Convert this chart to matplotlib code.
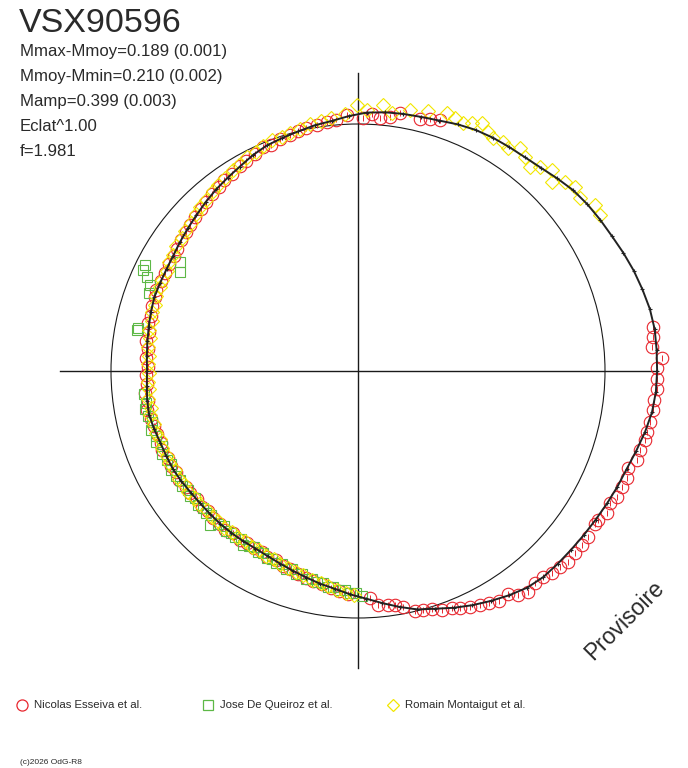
import numpy as np
import matplotlib.pyplot as plt
from matplotlib.patches import Circle

# ------- DATA (phase angle in degrees, radius relative to reference circle) -------
STAR  = "VSX90596"
INFO  = ["Mmax-Mmoy=0.189 (0.001)", "Mmoy-Mmin=0.210 (0.002)",
         "Mamp=0.399 (0.003)", "Eclat^1.00", "f=1.981"]
OBSERVERS = ["Nicolas Esseiva et al.", "Jose De Queiroz et al.", "Romain Montaigut et al."]

blk_ang = [0, 4, 8, 12, 16, 20, 24, 28, 32, 36, 40, 44, 48, 52, 56, 60, 64, 68, 72, 76,
           80, 84, 88, 92, 96, 100, 104, 108, 112, 116, 120, 124, 128, 132, 136, 140, 144,
           148, 152, 156, 160, 164, 168, 172, 176, 180, 184, 188, 192, 196, 200, 204, 208,
           212, 216, 220, 224, 228, 232, 236, 240, 244, 248, 252, 256, 260, 264, 268, 272,
           276, 280, 284, 288, 292, 296, 300, 304, 308, 312, 316, 320, 324, 328, 332, 336,
           340, 344, 348, 352, 356]
blk_r = [1.211, 1.212, 1.213, 1.208, 1.198, 1.188, 1.176, 1.164, 1.156, 1.148, 1.138,
         1.122, 1.107, 1.098, 1.094, 1.091, 1.086, 1.077, 1.066, 1.060, 1.057, 1.053,
         1.047, 1.033, 1.018, 1.010, 1.000, 0.992, 0.985, 0.972, 0.956, 0.944, 0.933,
         0.921, 0.909, 0.899, 0.890, 0.882, 0.878, 0.877, 0.877, 0.872, 0.866, 0.861,
         0.857, 0.854, 0.857, 0.862, 0.864, 0.858, 0.851, 0.849, 0.848, 0.843, 0.837,
         0.834, 0.833, 0.833, 0.832, 0.831, 0.830, 0.834, 0.841, 0.851, 0.862, 0.875,
         0.887, 0.905, 0.922, 0.945, 0.970, 0.995, 1.012, 1.034, 1.055, 1.075, 1.095,
         1.113, 1.122, 1.124, 1.126, 1.130, 1.135, 1.142, 1.150, 1.158, 1.172, 1.188,
         1.202, 1.209]

red_ang = [71.9, 74.1, 76.2, 80.8, 82.8, 85.0, 86.9, 88.9, 92.5,
           95, 97, 99.5, 102, 104, 106, 108.5, 111, 113, 115.5, 118, 120, 122.5, 125,
           127, 129.5, 132, 134, 136.5, 139, 141, 143.5, 146, 148, 150.5, 153, 155.5,
           158, 160, 162.5, 165, 167, 169.5, 172, 174, 176.5, 179, 181, 183.5, 186, 188,
           190.5, 193, 195, 197.5, 200, 202, 204.5, 207, 209, 211.5, 214, 216, 218.5,
           221, 223, 225.5, 228, 230, 232.5, 235, 237, 239.5, 242, 244, 246.5, 249, 251,
           253.5, 256, 258, 260.5, 263, 265, 267.5,
           273.0, 274.9, 277.3, 279.0, 280.8, 283.4, 285.2, 287.3, 289.4, 291.6, 293.3,
           295.4, 297.5, 299.5, 301.5, 303.9, 305.5, 307.6, 309.9, 311.9, 313.8, 315.9,
           317.7, 320.0, 322.2, 324.2, 327.2, 328.2, 330.3, 332.4, 334.1, 336.3, 338.3,
           340.2, 342.3, 344.4, 346.5, 348.1, 350.1, 352.5, 354.4, 356.6, 358.5,
           0.6, 2.4, 4.7, 6.6, 8.5]
red_r = [1.069, 1.061, 1.051, 1.058, 1.036, 1.028, 1.042, 1.024, 1.037,
         1.022, 1.015, 1.010, 1.004, 1.002, 0.992, 0.990, 0.981, 0.986, 0.972, 0.962,
         0.958, 0.948, 0.944, 0.935, 0.929, 0.921, 0.913, 0.908, 0.900, 0.897, 0.889,
         0.886, 0.879, 0.880, 0.875, 0.877, 0.880, 0.874, 0.876, 0.868, 0.872, 0.862,
         0.865, 0.856, 0.858, 0.851, 0.860, 0.855, 0.866, 0.860, 0.868, 0.862, 0.857,
         0.853, 0.850, 0.856, 0.846, 0.851, 0.844, 0.848, 0.838, 0.842, 0.835, 0.839,
         0.830, 0.836, 0.832, 0.838, 0.829, 0.834, 0.828, 0.833, 0.829, 0.838, 0.835,
         0.846, 0.849, 0.858, 0.862, 0.870, 0.876, 0.884, 0.893, 0.902,
         0.920, 0.951, 0.955, 0.959, 0.973, 0.999, 1.003, 1.009, 1.026, 1.032, 1.044,
         1.058, 1.068, 1.079, 1.092, 1.088, 1.114, 1.129, 1.118, 1.121, 1.134, 1.140,
         1.149, 1.147, 1.148, 1.148, 1.142, 1.144, 1.160, 1.152, 1.166, 1.168, 1.172,
         1.162, 1.186, 1.186, 1.195, 1.196, 1.200, 1.205, 1.204, 1.213, 1.211,
         1.211, 1.232, 1.194, 1.202, 1.208]

grn_ang = [148.5, 151, 153.5, 154.8, 156, 157.5, 159.5, 169, 169.5,
           186, 188.5, 190, 192, 194, 196, 198, 199.5, 201, 203, 205, 206.5, 208, 210,
           211.5, 213, 215, 216.5, 218, 220, 221.5, 223, 224.5, 226, 227.5, 229, 230.5,
           232, 233.5, 235, 236.5, 238, 239.5, 241, 242.5, 244, 245.5, 247, 248.5, 250,
           251.5, 253, 254.5, 256, 257.5, 259, 260.5, 262, 263.5, 265, 266.5, 268, 269.5,
           271]
grn_r = [0.846, 0.826, 0.964, 0.962, 0.935, 0.911, 0.903, 0.907, 0.911,
         0.872, 0.866, 0.875, 0.868, 0.861, 0.870, 0.858, 0.866, 0.852, 0.861, 0.855,
         0.848, 0.858, 0.850, 0.843, 0.852, 0.841, 0.848, 0.838, 0.846, 0.836, 0.842,
         0.833, 0.865, 0.838, 0.830, 0.840, 0.833, 0.837, 0.829, 0.844, 0.834, 0.828,
         0.838, 0.832, 0.841, 0.836, 0.845, 0.840, 0.852, 0.847, 0.858, 0.853, 0.866,
         0.862, 0.872, 0.869, 0.884, 0.880, 0.892, 0.889, 0.901, 0.898, 0.910]

yel_ang = [32.8, 35.0, 37.9, 40.3, 42.4, 44.3, 46.0, 48.3, 49.9, 52.0, 54.0, 56.1, 57.7,
           59.9, 61.5, 63.4, 65.3, 67.1, 69.0, 71.0, 74.9, 78.7, 82.5, 84.6, 88.0, 90.2,
           93, 96, 98.5, 101, 103.5, 106, 108, 110.5, 113, 115, 117.5, 120, 122, 124.5,
           127, 129, 131.5, 134, 136, 138.5, 141, 143, 145.5, 148, 150, 152.5, 155, 157,
           159.5, 162, 164, 166.5, 169, 171, 173.5, 176, 178, 180.5, 183, 185, 187.5, 190,
           192, 194.5, 197, 199, 201.5, 204, 206, 208.5, 211, 213, 215.5, 218, 220, 222.5,
           225, 227, 229.5, 232, 234, 236.5, 239, 241, 243.5, 246, 248, 250.5, 253, 255,
           257.5, 260, 262, 264.5, 267, 269]
yel_r = [1.166, 1.171, 1.139, 1.152, 1.135, 1.097, 1.131, 1.107, 1.080, 1.099, 1.116,
         1.088, 1.097, 1.090, 1.101, 1.123, 1.105, 1.090, 1.097, 1.105, 1.090, 1.077,
         1.054, 1.082, 1.057, 1.077,
         1.040, 1.030, 1.022, 1.018, 1.008, 1.002, 0.995, 0.998, 0.988, 0.979, 0.975,
         0.962, 0.958, 0.950, 0.944, 0.936, 0.927, 0.921, 0.913, 0.905, 0.902, 0.894,
         0.893, 0.884, 0.884, 0.873, 0.874, 0.869, 0.872, 0.864, 0.866, 0.859, 0.860,
         0.853, 0.854, 0.848, 0.850, 0.845, 0.852, 0.848, 0.856, 0.852, 0.859, 0.852,
         0.855, 0.847, 0.852, 0.845, 0.850, 0.843, 0.846, 0.838, 0.843, 0.835, 0.839,
         0.831, 0.836, 0.830, 0.835, 0.828, 0.833, 0.826, 0.832, 0.828, 0.835, 0.835,
         0.841, 0.845, 0.852, 0.857, 0.866, 0.872, 0.880, 0.889, 0.898, 0.905]


def xy(ang, r):
    a = np.radians(ang)
    r = np.asarray(r)
    return r * np.cos(a), r * np.sin(a)


# ------- FIGURE ----------
W, H = 688, 768
CX, CY, R0 = 358, 371, 247     # centre and reference-circle radius in pixels
fig = plt.figure(figsize=(W / 100, H / 100), dpi=100)
ax = fig.add_axes([0, 0, 1, 1])
ax.set_xlim(-CX / R0, (W - CX) / R0)
ax.set_ylim(-(H - CY) / R0, CY / R0)
ax.axis("off")

ink = "#1a1a1a"
ax.plot([-1.206, 1.202], [0, 0], color=ink, lw=1.0, zorder=1)
ax.plot([0, 0], [-1.202, 1.206], color=ink, lw=1.0, zorder=1)
ax.add_patch(Circle((0, 0), 1.0, fill=False, ec=ink, lw=0.8, zorder=1))

red, grn, yel = "#e8262e", "#5db846", "#f2e600"

x, y = xy(red_ang, red_r)
ax.errorbar(x, y, yerr=0.012, fmt="none", ecolor=red, elinewidth=0.7, zorder=2)
ax.plot(x, y, "o", ms=9, mfc="none", mec=red, mew=0.8, zorder=2)

x, y = xy(grn_ang, grn_r)
ax.plot(x, y, "s", ms=7.5, mfc="none", mec=grn, mew=0.8, zorder=3)

x, y = xy(yel_ang, yel_r)
ax.plot(x, y, "D", ms=7.3, mfc="none", mec=yel, mew=0.8, zorder=4)

x, y = xy(blk_ang, blk_r)
ax.plot(np.r_[x, x[0]], np.r_[y, y[0]], "-", color="#222222", lw=1.4, zorder=5)
ax.plot(x, y, "+", ms=3, mew=0.8, color="#222222", zorder=5)

# ------- TEXTS (pixel overlay) ----------
lay = fig.add_axes([0, 0, 1, 1])
lay.set_xlim(0, W)
lay.set_ylim(H, 0)
lay.axis("off")
lay.patch.set_alpha(0)

txt = "#2a2a2a"
font = "Liberation Sans"
lay.text(19, 32, STAR, fontsize=24.5, color=txt, family=font, va="baseline")
for i, line in enumerate(INFO):
    lay.text(20, 56 + 25 * i, line, fontsize=12.1, color=txt, family=font, va="baseline")

lay.text(625, 620, "Provisoire", fontsize=16.5, rotation=45, color=txt, family=font,
         ha="center", va="center", rotation_mode="anchor")

leg_x = [22, 208, 393]
leg_m = ["o", "s", "D"]
leg_c = [red, grn, yel]
leg_s = [8, 6.5, 6.5]
for lx, m, c, s, name in zip(leg_x, leg_m, leg_c, leg_s, OBSERVERS):
    lay.plot(lx, 705, m, ms=s, mfc="none", mec=c, mew=0.9)
    lay.text(lx + 12, 705, name, fontsize=8.2, color=txt, family=font, va="center")

lay.text(20, 762, "(c)2026 OdG-R8", fontsize=6, color=txt, family=font, va="center")

plt.savefig("out.png", dpi=100)
